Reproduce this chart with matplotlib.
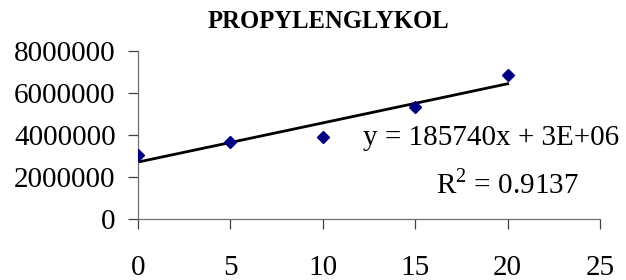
import matplotlib
matplotlib.use("Agg")
import matplotlib.pyplot as plt
import numpy as np

# Daten
x_werte = [0, 5, 10, 15, 20]
y_werte = [3040000, 3670000, 3910000, 5350000, 6870000]
x_ticks = [0, 5, 10, 15, 20, 25]
y_ticks = [0, 2000000, 4000000, 6000000, 8000000]

plt.rcParams['font.family'] = ['Liberation Serif', 'DejaVu Serif']

fig = plt.figure(figsize=(6.26, 2.80), dpi=100)
ax = fig.add_axes([0.2204, 0.219, 0.7381, 0.599])

ax.plot(x_werte, y_werte, linestyle='none', marker='D', ms=6.5,
        color='#000080', zorder=3)

# lineare Trendlinie
m, b = np.polyfit(x_werte, y_werte, 1)
xl = np.array([x_werte[0], x_werte[-1]])
ax.plot(xl, m * xl + b, color='black', lw=2, zorder=2)

ax.set_xlim(0, 25)
ax.set_ylim(0, 8000000)
ax.set_xticks(x_ticks)
ax.set_yticks(y_ticks)
ax.set_xticklabels([str(v) for v in x_ticks])
ax.set_yticklabels([str(v) for v in y_ticks])

for s in ['top', 'right']:
    ax.spines[s].set_visible(False)
for s in ['left', 'bottom']:
    ax.spines[s].set_color('#707070')
    ax.spines[s].set_linewidth(0.9)

ax.tick_params(axis='both', direction='out', length=7, width=0.9,
               color='#404040', labelsize=21)
ax.tick_params(axis='x', pad=19)
ax.tick_params(axis='y', pad=9)

# Textpositionen in Pixel (oben links gemessen)
ax.text(491, 280 - 138, 'y = 185740x + 3E+06', transform=None, fontsize=21,
        ha='center', va='center')
ax.text(507, 280 - 184, r'R$^{\mathregular{2}}$ = 0.9137', transform=None,
        fontsize=21, ha='center', va='center')

fig.text(328 / 626, 1 - 22 / 280, 'PROPYLENGLYKOL', fontsize=17.7,
         fontweight='bold', ha='center', va='center')

fig.savefig('out.png', dpi=100)
